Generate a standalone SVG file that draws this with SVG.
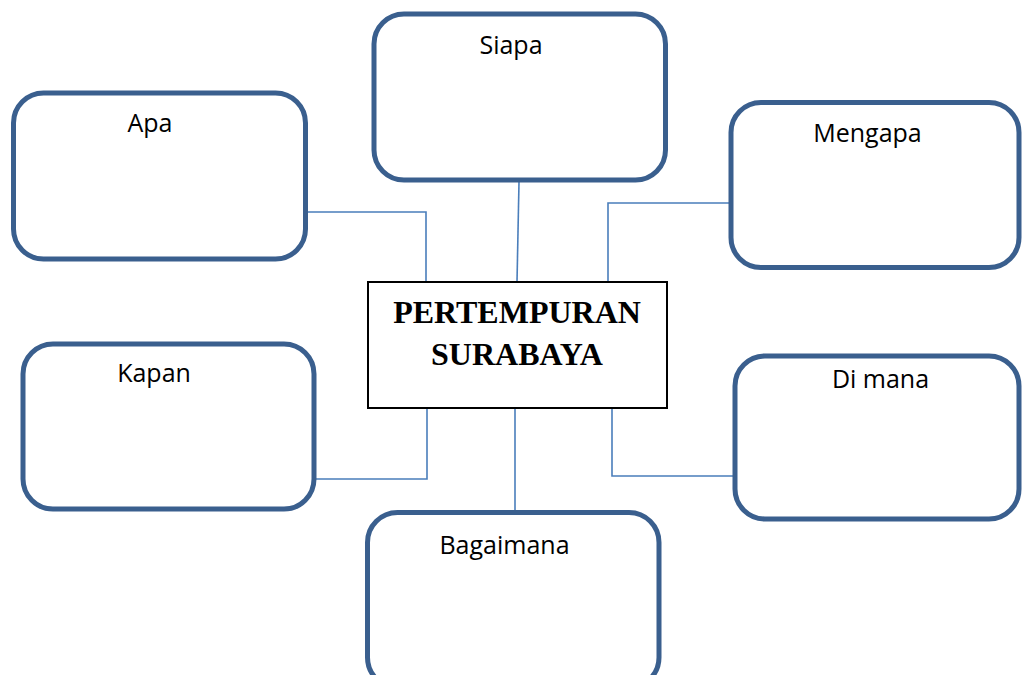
<svg xmlns="http://www.w3.org/2000/svg" width="1023" height="675" viewBox="0 0 1023 675">
<style>
.node{fill:#fff;stroke:#3a5f8e;stroke-width:5}
.lbl{font-family:"Open Sans","Noto Sans",sans-serif;font-size:25px;fill:#000;text-anchor:middle}
.conn{fill:none;stroke:#4a7ebb;stroke-width:1.6}
.center{fill:#fff;stroke:#000;stroke-width:2}
.title{font-family:"Liberation Serif","Times New Roman",serif;font-weight:bold;font-size:32px;fill:#000;text-anchor:middle}
</style>
<rect width="1023" height="675" fill="#fff"/>
<g id="connectors">
<polyline class="conn" points="307,212 426,212 426,282"/>
<polyline class="conn" points="519,182 517,282"/>
<polyline class="conn" points="729,203 608,203 608,282"/>
<polyline class="conn" points="316,479 427,479 427,408"/>
<polyline class="conn" points="515,408 515,510"/>
<polyline class="conn" points="733,476 612,476 612,408"/>
</g>
<g id="apa">
<rect class="node" x="13.5" y="93" width="292" height="166" rx="30"/>
<text class="lbl" x="150" y="132">Apa</text>
</g>
<g id="siapa">
<rect class="node" x="374" y="14" width="291.5" height="166" rx="30"/>
<text class="lbl" x="511" y="54">Siapa</text>
</g>
<g id="mengapa">
<rect class="node" x="731" y="102.5" width="288" height="165" rx="30"/>
<text class="lbl" x="867.5" y="142">Mengapa</text>
</g>
<g id="kapan">
<rect class="node" x="23" y="344" width="291" height="165" rx="30"/>
<text class="lbl" x="154" y="382">Kapan</text>
</g>
<g id="dimana">
<rect class="node" x="735" y="356" width="284" height="163" rx="30"/>
<text class="lbl" x="880.5" y="388">Di mana</text>
</g>
<g id="bagaimana">
<rect class="node" x="367.5" y="512.5" width="291.5" height="175" rx="30"/>
<text class="lbl" x="504.5" y="554">Bagaimana</text>
</g>
<g id="center">
<rect class="center" x="368" y="282" width="299" height="126"/>
<text class="title" x="517" y="323">PERTEMPURAN</text>
<text class="title" x="517" y="365">SURABAYA</text>
</g>
</svg>
